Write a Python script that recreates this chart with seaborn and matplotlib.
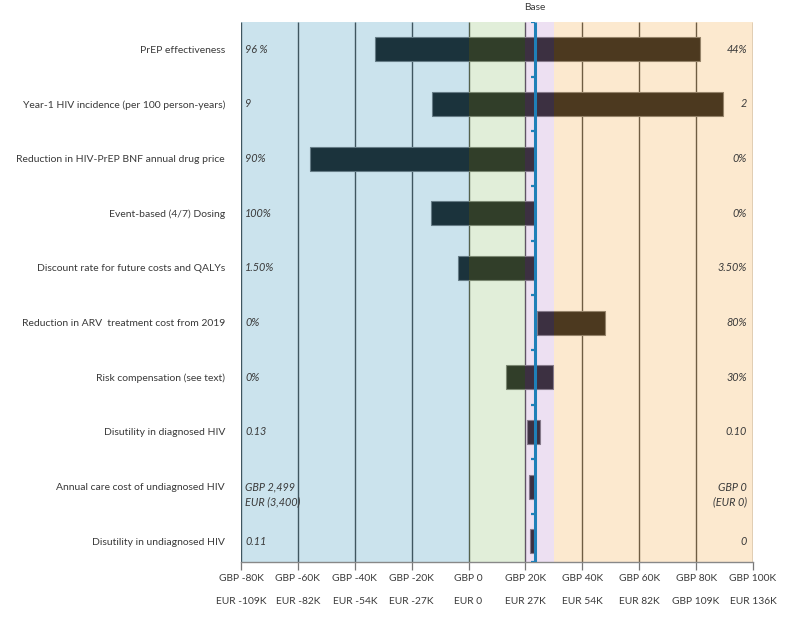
import matplotlib
matplotlib.use("Agg")
import matplotlib.pyplot as plt
import seaborn as sns
import pandas as pd
import numpy as np

# ---------------- data ----------------
parameters = [
    "PrEP effectiveness",
    "Year-1 HIV incidence (per 100 person-years)",
    "Reduction in HIV-PrEP BNF annual drug price",
    "Event-based (4/7) Dosing",
    "Discount rate for future costs and QALYs",
    "Reduction in ARV  treatment cost from 2019",
    "Risk compensation (see text)",
    "Disutility in diagnosed HIV",
    "Annual care cost of undiagnosed HIV",
    "Disutility in undiagnosed HIV",
]
low_icer = [-33.0, -13.0, -55.7, -13.2, -3.7, 24.0, 13.2, 20.5, 21.3, 21.6]   # GBP thousands
high_icer = [81.4, 89.6, 23.4, 23.4, 23.4, 48.0, 29.6, 25.2, 23.2, 23.1]
left_values = ["96 %", "9", "90%", "100%", "1.50%", "0%", "0%", "0.13",
               "GBP 2,499\nEUR (3,400)", "0.11"]
right_values = ["44%", "2", "0%", "0%", "3.50%", "80%", "30%", "0.10",
                "GBP 0\n(EUR 0)", "0"]
base_icer = 23.4
tick_values = [-80, -60, -40, -20, 0, 20, 40, 60, 80, 100]
tick_gbp = ["GBP -80K", "GBP -60K", "GBP -40K", "GBP -20K", "GBP 0",
            "GBP 20K", "GBP 40K", "GBP 60K", "GBP 80K", "GBP 100K"]
tick_eur = ["EUR -109K", "EUR -82K", "EUR -54K", "EUR -27K", "EUR 0",
            "EUR 27K", "EUR 54K", "EUR 82K", "GBP 109K", "EUR 136K"]
band_edges = [-80, 0, 20, 30, 100]
band_colors = ["#5aa5c5", "#a1cb87", "#c59ed5", "#f8bb67"]

# ---------------- style ----------------
sns.set_style("white")
plt.rcParams["font.family"] = ["Lato", "DejaVu Sans"]
text_color = "#3a3a3a"

df = pd.DataFrame({
    "parameter": parameters,
    "low": low_icer,
    "high": high_icer,
})
df["span"] = df["high"] - df["low"]

fig = plt.figure(figsize=(8, 6.25), dpi=100)
ax = fig.add_axes([0.30125, 0.1008, 0.64, 0.864])

# bars (black, later tinted by translucent bands drawn on top)
sns.barplot(data=df, y="parameter", x="span", orient="h", color="black",
            width=0.44, edgecolor="#6a6a6a", linewidth=0.8, ax=ax,
            saturation=1, zorder=1)
for patch, lo in zip(ax.patches, df["low"]):
    patch.set_x(lo)
    patch.set_facecolor("black")

ylo, yhi = -0.5, 9.38
ax.set_xlim(tick_values[0], tick_values[-1])
ax.set_ylim(yhi, ylo)

# grid lines
ax.vlines(tick_values, ylo, yhi, color="#333333", lw=1.0, zorder=0.5)

# translucent background bands
for a, b, c in zip(band_edges[:-1], band_edges[1:], band_colors):
    ax.axvspan(a, b, color=c, alpha=0.31, lw=0, zorder=2)

# base line with small hooks at row boundaries
base_col = "#1f80b8"
ax.plot([base_icer, base_icer], [ylo, yhi], color=base_col, lw=2.2, zorder=4,
        solid_capstyle="butt")
hook_y = list(np.arange(len(parameters)) - 0.5) + [yhi]
ax.hlines(hook_y, base_icer - 1.4, base_icer, color=base_col, lw=1.6, zorder=4)
ax.annotate("Base", xy=(base_icer, ylo), xycoords="data", xytext=(0, 7.5),
            textcoords="offset points", ha="center", va="bottom",
            fontsize=7.3, color=text_color)

# value labels
for i, (lt, rt) in enumerate(zip(left_values, right_values)):
    for txt, xf, dx, ha in [(lt, 0, 3.0, "left"), (rt, 1, -4.3, "right")]:
        multi = "\n" in txt
        ax.annotate(txt, xy=(xf, i), xycoords=("axes fraction", "data"),
                    xytext=(dx, -5.8 if multi else 0), textcoords="offset points",
                    ha=ha, va="center", fontsize=7.8, style="italic",
                    color=text_color, linespacing=1.45, zorder=5)

# axes cosmetics
ax.set_yticks(range(len(parameters)), parameters)
ax.tick_params(axis="y", length=0, pad=11.5, labelsize=7.5, labelcolor=text_color)
ax.set_xticks(tick_values, [f"{g}\n{e}" for g, e in zip(tick_gbp, tick_eur)])
ax.tick_params(axis="x", length=5.5, width=0.9, color="#777777", pad=3,
               labelsize=7.4, labelcolor=text_color, bottom=True)
for lab in ax.get_xticklabels():
    lab.set_linespacing(3.0)
ax.set_xlabel("")
ax.set_ylabel("")
for s in ["top", "right", "left"]:
    ax.spines[s].set_visible(False)
ax.spines["bottom"].set_color("#888888")
ax.spines["bottom"].set_linewidth(1.0)
ax.spines["bottom"].set_zorder(3)

fig.savefig("out.png", dpi=100)
